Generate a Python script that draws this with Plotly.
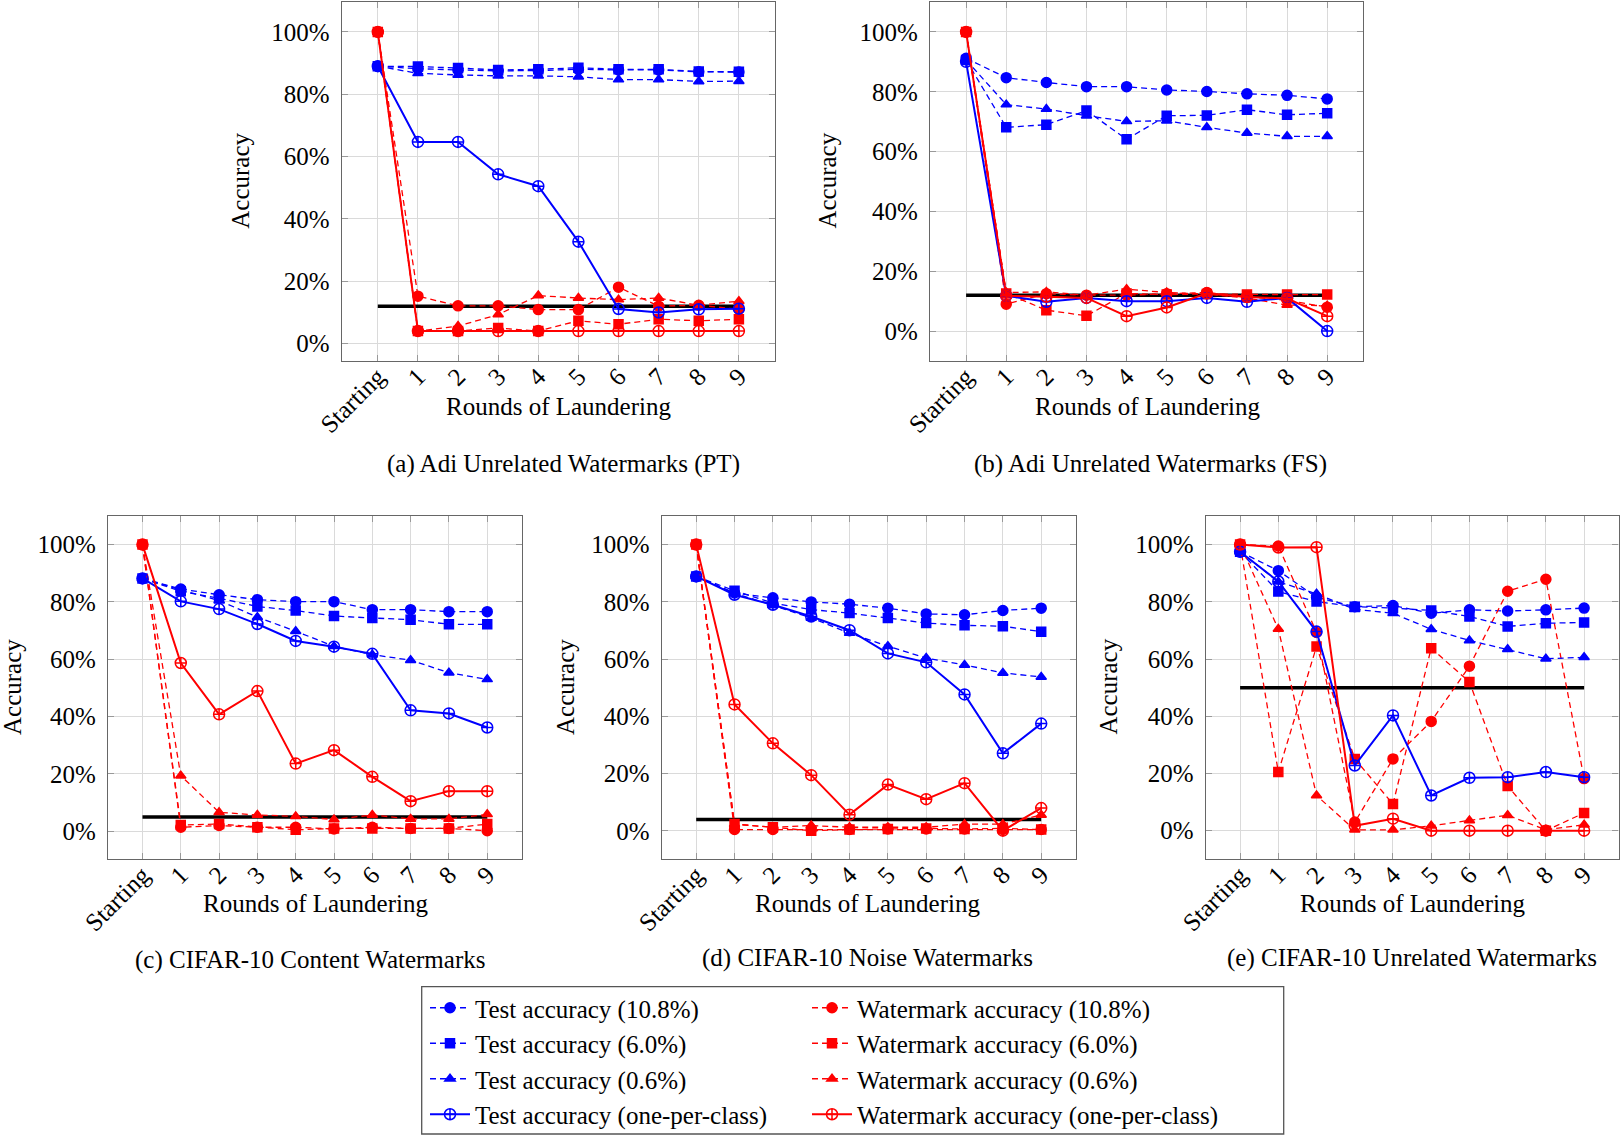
import plotly.graph_objects as go

# ---------------- data ----------------
rounds = ["Starting", "1", "2", "3", "4", "5", "6", "7", "8", "9"]
y_ticks = [0, 20, 40, 60, 80, 100]
y_tick_labels = ["0%", "20%", "40%", "60%", "80%", "100%"]

# (a) Adi Unrelated Watermarks (PT)
a_test_108 = [89.0, 88.2, 87.8, 87.5, 87.6, 88.0, 87.8, 87.8, 87.2, 87.1]
a_test_60 = [89.0, 88.9, 88.4, 87.8, 88.0, 88.5, 88.0, 88.0, 87.3, 87.2]
a_test_06 = [89.0, 86.7, 86.2, 85.9, 85.9, 85.6, 84.7, 84.7, 84.1, 84.2]
a_test_opc = [89.0, 64.7, 64.7, 54.3, 50.5, 32.7, 11.1, 10.0, 11.0, 11.2]
a_wm_108 = [100, 15.2, 12.1, 12.1, 10.9, 10.9, 18.1, 12.0, 12.3, 11.0]
a_wm_60 = [100, 4.0, 4.0, 5.0, 4.0, 7.3, 6.2, 7.8, 7.3, 7.8]
a_wm_06 = [100, 4.0, 5.6, 9.3, 15.4, 14.6, 14.1, 14.6, 12.3, 13.6]
a_wm_opc = [100, 4.0, 4.0, 4.0, 4.0, 4.0, 4.0, 4.0, 4.0, 4.0]
a_thr = 12

# (b) Adi Unrelated Watermarks (FS)
b_test_108 = [91.2, 84.7, 83.1, 81.7, 81.7, 80.6, 80.1, 79.3, 78.8, 77.6]
b_test_60 = [90.6, 68.1, 69.0, 73.7, 64.1, 72.0, 72.1, 74.0, 72.3, 72.8]
b_test_06 = [90.6, 75.7, 74.2, 72.0, 70.1, 70.3, 68.1, 66.2, 65.1, 65.1]
b_test_opc = [90.0, 11.8, 9.8, 11.1, 10.0, 10.0, 11.1, 9.8, 11.1, 0.0]
b_wm_108 = [100, 9.0, 12.5, 12.0, 12.0, 12.5, 12.9, 11.5, 10.3, 8.0]
b_wm_60 = [100, 12.6, 7.0, 5.1, 12.6, 12.2, 12.4, 12.2, 12.2, 12.2]
b_wm_06 = [100, 12.9, 13.1, 12.0, 14.0, 12.9, 12.4, 11.0, 8.7, 8.5]
b_wm_opc = [100, 11.8, 11.5, 11.1, 5.0, 7.9, 12.6, 11.4, 10.9, 5.0]
b_thr = 12

# (c) CIFAR-10 Content Watermarks
c_test_108 = [88.2, 84.5, 82.5, 80.8, 80.1, 80.1, 77.3, 77.3, 76.6, 76.6]
c_test_60 = [88.2, 83.7, 81.3, 78.4, 77.0, 75.1, 74.4, 73.8, 72.2, 72.2]
c_test_06 = [88.2, 84.2, 80.5, 74.7, 69.8, 64.5, 61.6, 59.7, 55.3, 53.0]
c_test_opc = [88.2, 80.2, 77.5, 72.3, 66.4, 64.4, 61.9, 42.2, 41.1, 36.2]
c_wm_108 = [100, 1.4, 2.0, 1.4, 1.4, 0.8, 1.4, 1.0, 1.0, 0.2]
c_wm_60 = [100, 2.2, 2.5, 1.4, 0.5, 1.0, 1.0, 1.0, 1.0, 2.5]
c_wm_06 = [100, 19.4, 6.6, 5.7, 5.2, 4.1, 5.7, 4.3, 4.3, 5.9]
c_wm_opc = [100, 58.7, 40.8, 48.9, 23.6, 28.3, 19.0, 10.5, 14.0, 14.0]
c_thr = 5

# (d) CIFAR-10 Noise Watermarks
d_test_108 = [88.9, 83.1, 81.4, 80.0, 79.2, 77.8, 75.8, 75.5, 77.0, 77.8]
d_test_60 = [88.9, 83.9, 79.6, 77.3, 76.1, 74.4, 72.6, 71.8, 71.5, 69.6]
d_test_06 = [88.9, 83.0, 78.8, 74.4, 69.1, 64.5, 60.4, 58.0, 55.2, 53.8]
d_test_opc = [88.9, 82.5, 79.0, 74.9, 70.1, 62.0, 58.9, 47.7, 27.1, 37.5]
d_wm_108 = [100, 0.5, 0.5, 0.5, 0.5, 0.7, 0.7, 0.7, 0.5, 0.5]
d_wm_60 = [100, 2.4, 1.3, 0.1, 0.5, 0.7, 0.9, 0.7, 0.9, 0.5]
d_wm_06 = [100, 2.4, 1.3, 1.9, 1.3, 1.3, 1.3, 2.4, 2.4, 5.6]
d_wm_opc = [100, 44.2, 30.6, 19.5, 5.7, 16.2, 11.1, 16.7, 0.1, 8.0]
d_thr = 4

# (e) CIFAR-10 Unrelated Watermarks
e_test_108 = [97.5, 90.9, 81.6, 78.3, 78.7, 76.0, 77.2, 76.8, 77.2, 77.8]
e_test_60 = [97.5, 83.6, 80.1, 78.3, 77.8, 77.0, 74.9, 71.4, 72.5, 72.8]
e_test_06 = [97.5, 87.0, 82.8, 77.4, 76.0, 70.4, 66.5, 63.4, 60.1, 60.6]
e_test_opc = [97.5, 87.1, 69.6, 22.8, 40.3, 12.3, 18.5, 18.7, 20.5, 18.7]
e_wm_108 = [100, 99.5, 69.3, 3.0, 25.1, 38.2, 57.5, 83.7, 87.9, 18.2]
e_wm_60 = [100, 20.5, 64.4, 25.1, 9.3, 63.8, 52.0, 15.6, 0.0, 6.2]
e_wm_06 = [100, 70.5, 12.3, 0.3, 0.3, 1.7, 3.6, 5.4, 0.3, 2.1]
e_wm_opc = [100, 99.0, 99.1, 1.7, 4.2, 0.0, 0.0, 0.0, 0.0, 0.0]
e_thr = 50

captions = [
    "(a) Adi Unrelated Watermarks (PT)",
    "(b) Adi Unrelated Watermarks (FS)",
    "(c) CIFAR-10 Content Watermarks",
    "(d) CIFAR-10 Noise Watermarks",
    "(e) CIFAR-10 Unrelated Watermarks",
]
series_names = [
    "Test accuracy (10.8%)", "Watermark accuracy (10.8%)",
    "Test accuracy (6.0%)", "Watermark accuracy (6.0%)",
    "Test accuracy (0.6%)", "Watermark accuracy (0.6%)",
    "Test accuracy (one-per-class)", "Watermark accuracy (one-per-class)",
]

panels = [
    [a_test_108, a_wm_108, a_test_60, a_wm_60, a_test_06, a_wm_06, a_test_opc, a_wm_opc, a_thr],
    [b_test_108, b_wm_108, b_test_60, b_wm_60, b_test_06, b_wm_06, b_test_opc, b_wm_opc, b_thr],
    [c_test_108, c_wm_108, c_test_60, c_wm_60, c_test_06, c_wm_06, c_test_opc, c_wm_opc, c_thr],
    [d_test_108, d_wm_108, d_test_60, d_wm_60, d_test_06, d_wm_06, d_test_opc, d_wm_opc, d_thr],
    [e_test_108, e_wm_108, e_test_60, e_wm_60, e_test_06, e_wm_06, e_test_opc, e_wm_opc, e_thr],
]

# ---------------- styles / layout ----------------
W, H = 1620, 1135
BLUE, RED = "#0000ff", "#ff0000"
FONT = "Liberation Serif"

styles = [
    dict(color=BLUE, symbol="circle", size=10, dash="6px,4px", width=1.3, legend="legend"),
    dict(color=RED, symbol="circle", size=10, dash="6px,4px", width=1.3, legend="legend2"),
    dict(color=BLUE, symbol="square", size=9, dash="6px,4px", width=1.3, legend="legend"),
    dict(color=RED, symbol="square", size=9, dash="6px,4px", width=1.3, legend="legend2"),
    dict(color=BLUE, symbol="triangle-up", size=9, dash="6px,4px", width=1.3, legend="legend"),
    dict(color=RED, symbol="triangle-up", size=9, dash="6px,4px", width=1.3, legend="legend2"),
    dict(color=BLUE, symbol="circle-cross-open", size=11, dash="solid", width=2, legend="legend"),
    dict(color=RED, symbol="circle-cross-open", size=11, dash="solid", width=2, legend="legend2"),
]

# plot frames in pixels: (left, right, top, bottom)
frames_px = [
    (341.7, 775.0, 2.0, 361.0),
    (930.0, 1363.3, 2.0, 361.0),
    (108.0, 521.7, 516.0, 859.3),
    (661.7, 1075.7, 516.0, 859.3),
    (1205.7, 1618.5, 516.0, 859.3),
]
ylabel_px = [(239.7, 181), (826.6, 181), (12, 687), (565, 687), (1107.6, 687)]
xlabel_px = [(558, 406), (1147, 406), (315, 903), (868, 903), (1412, 903)]
caption_px = [(563, 464), (1150, 464), (310, 960), (868, 958), (1412, 958)]


def px(x):
    return x / W


def py(y):
    return 1 - y / H


fig = go.Figure()
annotations = []
ann_font = dict(family=FONT, size=25, color="black")

for p, data in enumerate(panels):
    sfx = "" if p == 0 else str(p + 1)
    xa, ya = "x" + sfx, "y" + sfx
    thr = data[8]
    fig.add_trace(go.Scatter(
        x=[rounds[0], rounds[-1]], y=[thr, thr], mode="lines",
        line=dict(color="black", width=3.5), showlegend=False,
        xaxis=xa, yaxis=ya, hoverinfo="skip"))
    for k in range(8):
        st = styles[k]
        fig.add_trace(go.Scatter(
            x=rounds, y=data[k], mode="lines+markers", name=series_names[k],
            line=dict(color=st["color"], width=st["width"], dash=st["dash"]),
            marker=dict(symbol=st["symbol"], size=st["size"], color=st["color"],
                        line=dict(color=st["color"], width=1.5)),
            legend=st["legend"], legendgroup=series_names[k],
            showlegend=(p == 0), xaxis=xa, yaxis=ya))

    allv = [v for s in data[:8] for v in s] + [thr]
    lo, hi = min(allv), max(allv)
    pad = 0.1 * (hi - lo)
    l, r, t, b = frames_px[p]
    axis_common = dict(showline=True, linecolor="#666666", linewidth=1.3, mirror="ticks",
                       showgrid=True, gridcolor="#dadada", gridwidth=1,
                       ticks="inside", ticklen=6, tickcolor="#999999", tickwidth=1,
                       zeroline=False, automargin=False,
                       tickfont=dict(family=FONT, size=25, color="black"))
    fig.update_layout(**{
        "xaxis" + sfx: dict(domain=[px(l), px(r)], anchor=ya, type="category",
                            categoryorder="array", categoryarray=rounds,
                            range=[-0.9, 9.9], tickangle=-45, ticklabelstandoff=-10,
                            tickvals=rounds, ticktext=rounds, **axis_common),
        "yaxis" + sfx: dict(domain=[py(b), py(t)], anchor=xa,
                            range=[lo - pad, hi + pad], tickvals=y_ticks,
                            ticktext=y_tick_labels, ticklabelstandoff=6, **axis_common),
    })
    annotations.append(dict(x=px(ylabel_px[p][0]), y=py(ylabel_px[p][1]), xref="paper", yref="paper",
                            xanchor="center", yanchor="middle",
                            text="Accuracy", textangle=-90, showarrow=False, font=ann_font))
    annotations.append(dict(x=px(xlabel_px[p][0]), y=py(xlabel_px[p][1]), xref="paper", yref="paper",
                            xanchor="center", yanchor="middle",
                            text="Rounds of Laundering", showarrow=False, font=ann_font))
    annotations.append(dict(x=px(caption_px[p][0]), y=py(caption_px[p][1]), xref="paper", yref="paper",
                            xanchor="center", yanchor="middle",
                            text=captions[p], showarrow=False, font=ann_font))

legend_common = dict(xanchor="left", yanchor="top", bgcolor="rgba(0,0,0,0)", borderwidth=0,
                     font=dict(family=FONT, size=25, color="black"), itemwidth=40,
                     tracegroupgap=0, traceorder="normal")

fig.update_layout(
    width=W, height=H, margin=dict(l=0, r=0, t=0, b=0, autoexpand=False),
    paper_bgcolor="white", plot_bgcolor="white",
    annotations=annotations,
    legend=dict(x=px(425), y=py(985), **legend_common),
    legend2=dict(x=px(807), y=py(985), **legend_common),
    shapes=[dict(type="rect", xref="paper", yref="paper",
                 x0=px(421.7), x1=px(1283.7), y0=py(1134), y1=py(986.7),
                 line=dict(color="#555555", width=1.3), fillcolor="rgba(0,0,0,0)")],
    showlegend=True,
)

fig.write_html("out.html", config={"displayModeBar": False},
               post_script="document.body.style.margin='0';document.body.style.overflow='hidden';")
